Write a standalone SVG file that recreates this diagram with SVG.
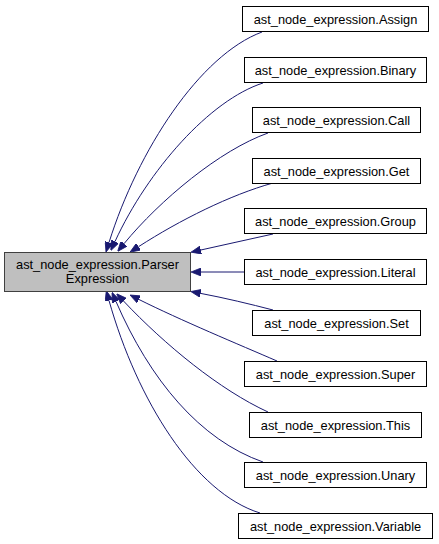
<svg xmlns="http://www.w3.org/2000/svg" width="439" height="544" viewBox="0 0 439 544">
<style>
.n rect{fill:#fff;stroke:#000;stroke-width:1}
.m rect{fill:#bfbfbf;stroke:#404040;stroke-width:1}
text{font-family:"Liberation Sans",Arial,sans-serif;font-size:12.8px;fill:#000;text-anchor:middle}
.e path{fill:none;stroke:#191970;stroke-width:1;marker-end:url(#ah)}
</style>
<defs>
<marker id="ah" markerUnits="userSpaceOnUse" viewBox="0 0 10 8" refX="0" refY="4" markerWidth="10" markerHeight="8" orient="auto">
<path d="M0,0 L10,4 L0,8 z" fill="#191970" stroke="#191970" stroke-width="0.8"/>
</marker>
</defs>
<g id="edges" class="e">
<path d="M262,32 C200,55 138,150 109,242.5"/>
<path d="M263,83 C210,100 148,170 115,241.5"/>
<path d="M268,133 C220,150 160,200 124,243.7"/>
<path d="M273,183 C230,195 180,220 138.5,246.7"/>
<path d="M273,234 L200.8,250"/>
<path d="M244.5,272 L201,272"/>
<path d="M273,310 C250,304 225,298 200.7,293.4"/>
<path d="M277,361 C240,345 180,320 139,299.5"/>
<path d="M268,412 C220,390 165,345 123.5,301"/>
<path d="M263,462 C200,440 150,380 116,301.5"/>
<path d="M260,513 C195,493 137,400 109,300.5"/>
</g>
<g id="parser" class="m"><rect x="4.5" y="252.5" width="186" height="39"/><text x="97.5" y="268.5">ast_node_expression.Parser</text><text x="97.5" y="283">Expression</text></g>
<g id="assign" class="n"><rect x="242.5" y="6.5" width="186" height="25"/><text x="335.5" y="23.5">ast_node_expression.Assign</text></g>
<g id="binary" class="n"><rect x="244.5" y="57.5" width="182" height="25"/><text x="335.5" y="74.5">ast_node_expression.Binary</text></g>
<g id="call" class="n"><rect x="252.5" y="107.5" width="168" height="25"/><text x="336.5" y="124.5">ast_node_expression.Call</text></g>
<g id="get" class="n"><rect x="252.5" y="158.5" width="168" height="25"/><text x="336.5" y="175.5">ast_node_expression.Get</text></g>
<g id="group" class="n"><rect x="244.5" y="208.5" width="182" height="25"/><text x="335.5" y="225.5">ast_node_expression.Group</text></g>
<g id="literal" class="n"><rect x="244.5" y="259.5" width="182" height="25"/><text x="335.5" y="276.5">ast_node_expression.Literal</text></g>
<g id="set" class="n"><rect x="252.5" y="310.5" width="168" height="25"/><text x="336.5" y="327.5">ast_node_expression.Set</text></g>
<g id="super" class="n"><rect x="244.5" y="361.5" width="182" height="25"/><text x="335.5" y="378.5">ast_node_expression.Super</text></g>
<g id="this" class="n"><rect x="249.5" y="412.5" width="172" height="25"/><text x="335.5" y="429.5">ast_node_expression.This</text></g>
<g id="unary" class="n"><rect x="244.5" y="462.5" width="182" height="25"/><text x="335.5" y="479.5">ast_node_expression.Unary</text></g>
<g id="variable" class="n"><rect x="238.5" y="513.5" width="194" height="25"/><text x="335.5" y="530.5">ast_node_expression.Variable</text></g>
</svg>
